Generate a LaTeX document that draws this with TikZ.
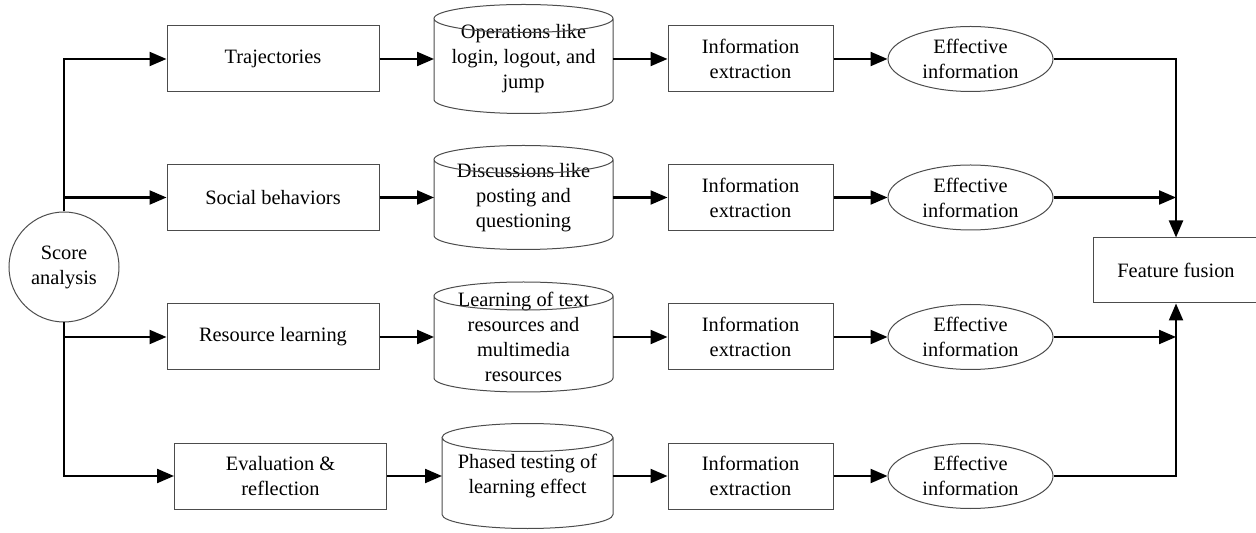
\documentclass[tikz,border=0pt]{standalone}
\usepackage{fontspec}
\setmainfont{Liberation Serif}
\usetikzlibrary{arrows.meta,shapes.geometric}

\begin{document}
\begin{tikzpicture}[x=0.5pt, y=-0.5pt,
	font=\fontsize{10.2pt}{12.5pt}\selectfont,
	box/.style={draw=black!70, line width=0.5pt, minimum width=106pt, minimum height=33pt, align=center, inner sep=2pt},
	infobox/.style={box, minimum width=82.5pt},
	store/.style={minimum width=89.5pt, align=center, inner sep=0pt, outer sep=0pt},
	oval/.style={ellipse, draw=black!70, line width=0.5pt, minimum width=82.5pt, minimum height=32.5pt, inner sep=0pt, align=center},
	rim/.style={draw=black!70, line width=0.5pt},
	flow/.style={line width=1.1pt, -{Triangle[length=8.5pt,width=7pt]}}]
		\useasboundingbox (0,0) rectangle (1256,533);
		% source
		\node[circle, draw=black!70, line width=0.5pt, minimum size=55pt, inner sep=0pt, align=center] (score) at (64,267) {Score\\analysis};
		% behaviour boxes
		\node[box] (traj) at (273,59) {Trajectories};
		\node[box] (social) at (273,197.5) {Social behaviors};
		\node[box] (reslearn) at (273,337) {Resource learning};
		\node[box] (evalref) at (280.5,476) {Evaluation \&\\reflection};
		% data stores
		\node[store, minimum height=54.5pt] (ops) at (523.5,59) {Operations like\\login, logout, and\\jump};
		\node[store, minimum height=52pt] (posts) at (523.5,197.5) {Discussions like\\posting and\\questioning};
		\node[store, minimum height=55pt] (media) at (523.5,337) {Learning of text\\resources and\\multimedia\\resources};
		\node[store, minimum width=85.5pt, minimum height=52.5pt] (tests) at (527.5,476) {Phased testing of\\learning effect};
		\foreach \c/\r in {ops/44.75, posts/44.75, media/44.75, tests/42.75}
			\draw[rim] ([yshift=-7pt]\c.north) ellipse [x radius=\r pt, y radius=7pt]
				([yshift=-7pt]\c.north west) -- ([yshift=7pt]\c.south west)
				arc[start angle=180, end angle=360, x radius=\r pt, y radius=7pt]
				-- ([yshift=-7pt]\c.north east);
		% extraction
		\node[infobox] (info1) at (750.5,59) {Information\\extraction};
		\node[infobox] (info2) at (750.5,197.5) {Information\\extraction};
		\node[infobox] (info3) at (750.5,337) {Information\\extraction};
		\node[infobox] (info4) at (750.5,476) {Information\\extraction};
		\node[oval] (eff1) at (970.5,59) {Effective\\information};
		\node[oval] (eff2) at (970.5,197.5) {Effective\\information};
		\node[oval] (eff3) at (970.5,337) {Effective\\information};
		\node[oval] (eff4) at (970.5,476) {Effective\\information};
		\node[box, minimum width=83pt, minimum height=32.5pt] (fusion) at (1176,270.5) {Feature fusion};
		% arrows
		\draw[flow] (score.north) |- (traj.west);
		\draw[flow] (score.north |- social.west) -- (social.west);
		\draw[flow] (score.south |- reslearn.west) -- (reslearn.west);
		\draw[flow] (score.south) |- (evalref.west);
		\draw[flow] (traj) -- (ops);
		\draw[flow] (social) -- (posts);
		\draw[flow] (reslearn) -- (media);
		\draw[flow] (evalref) -- (tests);
		\draw[flow] (ops) -- (info1);
		\draw[flow] (posts) -- (info2);
		\draw[flow] (media) -- (info3);
		\draw[flow] (tests) -- (info4);
		\draw[flow] (info1) -- (eff1);
		\draw[flow] (info2) -- (eff2);
		\draw[flow] (info3) -- (eff3);
		\draw[flow] (info4) -- (eff4);
		\draw[flow] (eff1) -| (fusion.north);
		\draw[flow] (eff2) -- (eff2 -| fusion.north);
		\draw[flow] (eff3) -- (eff3 -| fusion.south);
		\draw[flow] (eff4) -| (fusion.south);
\end{tikzpicture}
\end{document}
